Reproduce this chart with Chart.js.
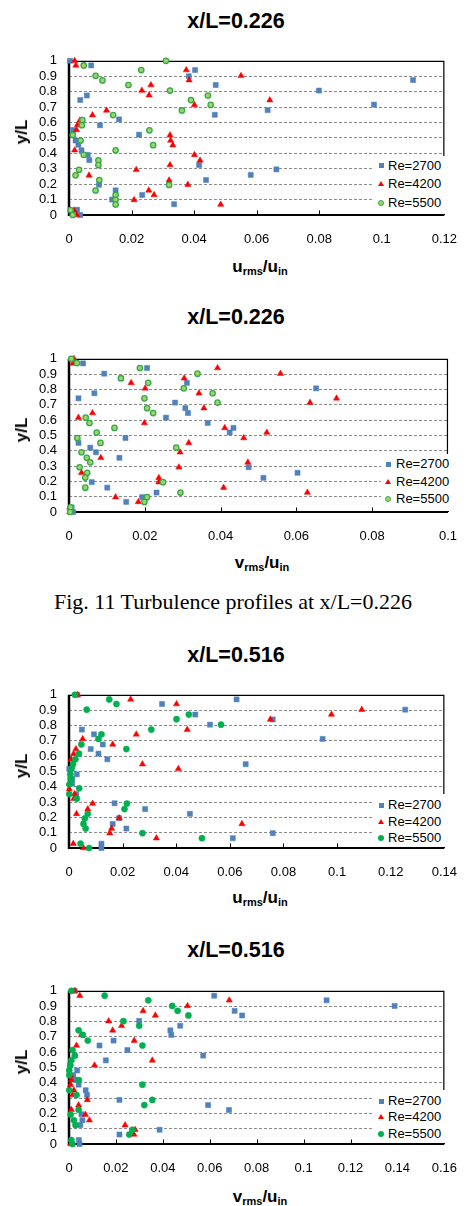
<!DOCTYPE html>
<html><head><meta charset="utf-8">
<script src="https://cdn.jsdelivr.net/npm/chart.js@4.4.1/dist/chart.umd.min.js"></script>
<style>
html,body{margin:0;padding:0;background:#fff}
body{position:relative;width:466px;height:1206px;overflow:hidden;font-family:"Liberation Sans",Arial,sans-serif;color:#000}
canvas{position:absolute;left:0}
.t{position:absolute;white-space:nowrap;transform:translateX(-50%)}
.title{font-weight:bold;font-size:21.5px;line-height:26px}
.ytitle{position:absolute;white-space:nowrap;font-weight:bold;font-size:17px;line-height:20px;transform:translate(-50%,-50%) rotate(-90deg)}
.xtitle{font-weight:bold;font-size:17px;line-height:20px}
.xtitle sub{font-size:11px;vertical-align:-3px;line-height:0}
.caption{font-family:"Liberation Serif","Times New Roman",serif;font-size:22px;line-height:26px}
.lg{position:absolute;background:#fff}
.row{position:absolute;font-size:13px;line-height:16px;white-space:nowrap}
.mk{position:absolute;box-sizing:border-box}
</style></head><body>
<div class="t caption" style="left:233px;top:589px">Fig. 11 Turbulence profiles at x/L=0.226</div>
<script>
// ---------------- data (x = rms/u_in, y = y/L) ----------------
const u226_2700 = [[0.0003,1.0],[0.0071,0.97],[0.0403,0.94],[0.0383,0.90],[0.110,0.875],[0.0469,0.843],[0.0799,0.807],[0.0057,0.775],[0.0036,0.746],[0.0975,0.716],[0.0635,0.68],[0.0466,0.65],[0.016,0.62],[0.0099,0.582],[0.0013,0.551],[0.0224,0.521],[0.0021,0.483],[0.003,0.455],[0.004,0.42],[0.006,0.39],[0.0065,0.356],[0.0416,0.324],[0.0663,0.296],[0.0581,0.26],[0.0438,0.227],[0.0096,0.196],[0.0149,0.16],[0.0234,0.13],[0.0138,0.10],[0.0336,0.07],[0.0026,0.034],[0.0036,0.0]];
const u226_4200 = [[0.0018,1.0],[0.0022,0.97],[0.0375,0.94],[0.055,0.903],[0.0384,0.875],[0.0262,0.843],[0.0233,0.807],[0.0256,0.777],[0.0642,0.745],[0.0401,0.714],[0.012,0.678],[0.0075,0.648],[0.0035,0.614],[0.0027,0.584],[0.0024,0.552],[0.0323,0.518],[0.0325,0.483],[0.0332,0.453],[0.0018,0.42],[0.0401,0.39],[0.0419,0.354],[0.0323,0.324],[0.0215,0.293],[0.0064,0.257],[0.032,0.225],[0.038,0.197],[0.0255,0.16],[0.0272,0.13],[0.0208,0.098],[0.0485,0.068],[0.0016,0.03],[0.0025,0.0]];
const u226_5500 = [[0.031,1.0],[0.0047,0.97],[0.0231,0.94],[0.0085,0.903],[0.0107,0.873],[0.019,0.843],[0.0323,0.807],[0.0444,0.775],[0.039,0.745],[0.0453,0.714],[0.0361,0.678],[0.0141,0.648],[0.0043,0.616],[0.0041,0.582],[0.0257,0.549],[0.0012,0.519],[0.0037,0.483],[0.0269,0.453],[0.0149,0.42],[0.0047,0.39],[0.0094,0.354],[0.0094,0.324],[0.0032,0.293],[0.0021,0.257],[0.0097,0.227],[0.032,0.195],[0.0085,0.159],[0.0149,0.129],[0.0149,0.099],[0.0149,0.068],[0.0005,0.032],[0.0012,0.0]];

const v226_2700 = [[0.0037,0.97],[0.0206,0.94],[0.0093,0.903],[0.0137,0.873],[0.0311,0.843],[0.0652,0.807],[0.0067,0.775],[0.0025,0.742],[0.028,0.714],[0.0307,0.678],[0.0314,0.646],[0.0256,0.616],[0.0366,0.581],[0.0434,0.549],[0.0424,0.519],[0.0149,0.483],[0.0025,0.451],[0.0056,0.42],[0.0071,0.39],[0.0133,0.354],[0.0474,0.292],[0.0603,0.256],[0.0513,0.223],[0.006,0.195],[0.0101,0.159],[0.0231,0.127],[0.0193,0.097],[0.0151,0.066],[0.0007,0.03],[0.0011,0.0]];
const v226_4200 = [[0.0013,1.0],[0.001,0.97],[0.0392,0.94],[0.0558,0.903],[0.0304,0.873],[0.0164,0.843],[0.0201,0.807],[0.0343,0.775],[0.0706,0.742],[0.0636,0.714],[0.0356,0.678],[0.0062,0.646],[0.0025,0.616],[0.0199,0.581],[0.0411,0.549],[0.0522,0.519],[0.0461,0.483],[0.0316,0.451],[0.0293,0.39],[0.0084,0.354],[0.0472,0.324],[0.029,0.292],[0.0033,0.256],[0.0237,0.223],[0.0237,0.195],[0.0408,0.159],[0.0629,0.127],[0.0123,0.097],[0.0183,0.066],[0.0002,0.03],[0.0002,0.0]];
const v226_5500 = [[0.0006,1.0],[0.0021,0.972],[0.0187,0.94],[0.0339,0.903],[0.0137,0.873],[0.0209,0.843],[0.0303,0.807],[0.0379,0.775],[0.0199,0.742],[0.0392,0.714],[0.0206,0.678],[0.0222,0.646],[0.0044,0.616],[0.0054,0.581],[0.012,0.549],[0.0073,0.519],[0.0022,0.483],[0.0083,0.451],[0.0283,0.42],[0.0033,0.39],[0.0047,0.354],[0.0056,0.324],[0.0028,0.292],[0.0048,0.256],[0.0043,0.225],[0.0248,0.195],[0.0043,0.159],[0.0294,0.127],[0.0206,0.097],[0.0199,0.066],[0.0004,0.03],[0.0003,0.0]];

const u516_2700 = [[0.0031,1.0],[0.0625,0.97],[0.0347,0.94],[0.1254,0.903],[0.0471,0.871],[0.076,0.839],[0.0526,0.805],[0.0048,0.773],[0.0093,0.742],[0.0946,0.712],[0.0126,0.676],[0.0081,0.646],[0.011,0.616],[0.0143,0.579],[0.0659,0.547],[0.0001,0.517],[0.0029,0.481],[0.0012,0.45],[0.0012,0.42],[0.0027,0.352],[0.017,0.292],[0.0284,0.254],[0.0451,0.223],[0.0187,0.195],[0.0163,0.157],[0.0214,0.127],[0.076,0.097],[0.0611,0.064],[0.0121,0.028],[0.0121,0.0]];
const u516_4200 = [[0.0032,1.0],[0.023,0.97],[0.0401,0.94],[0.1092,0.903],[0.0979,0.871],[0.0751,0.839],[0.0441,0.773],[0.0251,0.742],[0.0051,0.712],[0.0163,0.676],[0.0026,0.646],[0.0017,0.614],[0.0008,0.579],[0.0274,0.547],[0.0408,0.517],[0.0001,0.42],[0.0001,0.386],[0.0021,0.352],[0.0018,0.322],[0.0088,0.29],[0.007,0.254],[0.0028,0.223],[0.0187,0.195],[0.0645,0.157],[0.0159,0.127],[0.0152,0.097],[0.0326,0.064],[0.0016,0.028],[0.0054,0.0]];
const u516_5500 = [[0.0022,1.0],[0.015,0.97],[0.0177,0.94],[0.0066,0.903],[0.0447,0.871],[0.0401,0.841],[0.0567,0.805],[0.0307,0.773],[0.0121,0.742],[0.011,0.712],[0.0046,0.676],[0.0214,0.646],[0.0037,0.616],[0.0024,0.579],[0.0015,0.547],[0.001,0.517],[0.0005,0.481],[0.0007,0.451],[0.0002,0.416],[0.0038,0.39],[0.0001,0.352],[0.0029,0.322],[0.0216,0.29],[0.0207,0.254],[0.007,0.223],[0.0059,0.193],[0.0054,0.157],[0.0062,0.127],[0.0274,0.097],[0.0496,0.064],[0.0043,0.028],[0.0075,0.0]];

const v516_2700 = [[0.0024,1.0],[0.0619,0.968],[0.1098,0.938],[0.1388,0.901],[0.0706,0.869],[0.0738,0.839],[0.0299,0.804],[0.0474,0.772],[0.0432,0.742],[0.0436,0.712],[0.019,0.675],[0.013,0.643],[0.0249,0.613],[0.0572,0.577],[0.0157,0.546],[0.0004,0.514],[0.0035,0.48],[0.0018,0.45],[0.0025,0.42],[0.0041,0.387],[0.0071,0.351],[0.0077,0.32],[0.0215,0.288],[0.0593,0.254],[0.0682,0.222],[0.0053,0.194],[0.0057,0.155],[0.0048,0.123],[0.0386,0.093],[0.0215,0.062],[0.0042,0.026],[0.0045,0.0]];
const v516_4200 = [[0.0025,1.0],[0.0046,0.968],[0.0683,0.938],[0.0505,0.901],[0.0316,0.869],[0.0368,0.839],[0.0169,0.802],[0.0224,0.772],[0.0186,0.742],[0.0053,0.712],[0.0278,0.675],[0.0032,0.643],[0.0024,0.577],[0.0355,0.546],[0.0109,0.514],[0.0007,0.448],[0.001,0.418],[0.0007,0.387],[0.0021,0.351],[0.0015,0.32],[0.0078,0.288],[0.0041,0.254],[0.001,0.224],[0.007,0.192],[0.0087,0.155],[0.0239,0.123],[0.0282,0.093],[0.0277,0.062],[0.0007,0.0]];
const v516_5500 = [[0.001,1.0],[0.0152,0.968],[0.0338,0.938],[0.044,0.901],[0.0463,0.869],[0.0509,0.839],[0.0232,0.802],[0.0299,0.772],[0.0041,0.742],[0.0059,0.712],[0.008,0.675],[0.0313,0.643],[0.0015,0.613],[0.0025,0.577],[0.001,0.546],[0.0006,0.514],[0.0001,0.48],[0.0001,0.45],[0.0042,0.417],[0.0313,0.387],[0.0001,0.351],[0.0032,0.32],[0.0355,0.288],[0.0321,0.254],[0.0041,0.224],[0.0007,0.192],[0.0021,0.155],[0.0028,0.123],[0.027,0.093],[0.0257,0.062],[0.001,0.026],[0.0015,0.0]];

const chartTitles = ['x/L=0.226','x/L=0.226','x/L=0.516','x/L=0.516'];
const xVariable = ['u','v','u','v'];
const xMax = [0.12, 0.1, 0.14, 0.16];
const xStep = 0.02;
const yMin = 0, yMax = 1, yStep = 0.1;
const seriesNames = ['Re=2700','Re=4200','Re=5500'];
const chartSeries = [
  [u226_2700,u226_4200,u226_5500],
  [v226_2700,v226_4200,v226_5500],
  [u516_2700,u516_4200,u516_5500],
  [v516_2700,v516_4200,v516_5500]
];

// ---------------- layout / style ----------------
const layouts = [
 {top:49,bottom:215,left:69,right:451,titleY:21,xtitleY:267,box:[373,156,77,58],rows:[165.7,184.3,203.3],mkX:381,txtX:388,ring:true},
 {top:347,bottom:512,left:69,right:455,titleY:317,xtitleY:563,box:[381,454,73,57],rows:[464,481.7,499],mkX:388.3,txtX:396,ring:true},
 {top:683,bottom:848,left:69,right:451,titleY:655,xtitleY:898,box:[373,794,77,53],rows:[805,821.7,837.7],mkX:381,txtX:388,ring:false},
 {top:979,bottom:1144,left:69,right:451,titleY:950,xtitleY:1197,box:[373,1090,77,53],rows:[1101,1117.3,1134.3],mkX:381,txtX:388,ring:false}
];
const BLUE='#4F81BD', RED='#FF0000', GREEN='#00B050', RING='#34A94A', RINGFILL='#9FD46C';

Chart.defaults.font.family = '"Liberation Sans", Arial, sans-serif';
Chart.defaults.font.size = 13;
Chart.defaults.color = '#000';

const fmt = v => String(parseFloat(Number(v).toFixed(4)));

const framePlugin = {
  id:'frame',
  beforeDatasetsDraw(chart){
    const {ctx, chartArea:a, scales:{x}} = chart;
    ctx.save();
    ctx.strokeStyle = '#000';
    ctx.lineWidth = 1.2;
    ctx.beginPath();
    ctx.moveTo(a.left, a.top + 0.5);
    ctx.lineTo(a.right - 0.5, a.top + 0.5);
    ctx.lineTo(a.right - 0.5, a.bottom);
    ctx.stroke();
    ctx.lineWidth = 1;
    ctx.beginPath();
    x.ticks.forEach(t => {
      const px = Math.round(x.getPixelForValue(t.value)) + 0.5;
      ctx.moveTo(px, a.bottom);
      ctx.lineTo(px, a.bottom - 4.5);
    });
    ctx.stroke();
    ctx.lineWidth = 2;
    ctx.beginPath();
    ctx.moveTo(a.left, a.bottom);
    ctx.lineTo(a.right, a.bottom);
    ctx.stroke();
    ctx.lineWidth = 2.5;
    ctx.beginPath();
    ctx.moveTo(a.left, a.top);
    ctx.lineTo(a.left, a.bottom + 1);
    ctx.stroke();
    ctx.restore();
  }
};

function addDiv(cls, html, style){
  const d = document.createElement('div');
  d.className = cls; d.innerHTML = html;
  Object.assign(d.style, style);
  document.body.appendChild(d);
  return d;
}

layouts.forEach((L, i) => {
  const padTop = 8, axisH = 40;
  const cv = document.createElement('canvas');
  const H = L.bottom - L.top + padTop + axisH;
  cv.width = 466; cv.height = H;
  cv.style.width = '466px'; cv.style.height = H + 'px';
  cv.style.top = (L.top - padTop) + 'px';
  document.body.appendChild(cv);

  const styles = [
    {pointStyle:'rect', radius:3.6, backgroundColor:BLUE, borderColor:BLUE, borderWidth:0.5, order:2},
    {pointStyle:'triangle', radius:3.6, backgroundColor:RED, borderColor:RED, borderWidth:0.5, order:1},
    L.ring ? {pointStyle:'circle', radius:2.7, backgroundColor:RINGFILL, borderColor:RING, borderWidth:1.3, order:0}
           : {pointStyle:'circle', radius:3.1, backgroundColor:GREEN, borderColor:GREEN, borderWidth:0.5, order:0}
  ];

  new Chart(cv, {
    type:'scatter',
    data:{datasets: chartSeries[i].map((s,k) => Object.assign({
      label: seriesNames[k],
      data: s.map(p => ({x:p[0], y:p[1]})),
      clip: false,
      pointHoverRadius: 3.6
    }, styles[k]))},
    options:{
      responsive:false, animation:false,
      layout:{padding:{top:padTop, right:466 - L.right, left:0, bottom:0}},
      plugins:{legend:{display:false}, tooltip:{enabled:false}},
      scales:{
        x:{type:'linear', min:0, max:xMax[i],
           ticks:{stepSize:xStep, padding:9, callback:v => fmt(v), maxRotation:0, autoSkip:false, maxTicksLimit:30, color:'#000'},
           grid:{display:false}, border:{display:false},
           afterFit: s => { s.height = axisH; }},
        y:{type:'linear', min:yMin, max:yMax,
           ticks:{stepSize:yStep, padding:12, callback:v => fmt(v), autoSkip:false, maxTicksLimit:30, color:'#000'},
           grid:{drawTicks:false, lineWidth:1,
                 color: c => (c.tick && (c.tick.value < 0.001 || c.tick.value > 0.999)) ? 'rgba(0,0,0,0)' : '#8c8c8c'},
           border:{display:false, dash:[3,2]},
           afterFit: s => { s.width = L.left; }}
      }
    },
    plugins:[framePlugin]
  });

  addDiv('t title', chartTitles[i], {left:'236px', top:(L.titleY - 13) + 'px'});
  addDiv('ytitle', 'y/L', {left:'22px', top:((L.top + L.bottom)/2) + 'px'});
  const v = xVariable[i];
  addDiv('t xtitle', v + '<sub>rms</sub>/u<sub>in</sub>', {left:((L.left + L.right)/2) + 'px', top:(L.xtitleY - 10) + 'px'});

  const [bx, by, bw, bh] = L.box;
  addDiv('lg', '', {left:bx + 'px', top:by + 'px', width:bw + 'px', height:bh + 'px'});
  L.rows.forEach((ry, k) => {
    let mk;
    if (k === 0) mk = {left:(L.mkX - 2.5) + 'px', top:(ry - 2.5) + 'px', width:'5px', height:'5px', background:BLUE};
    else if (k === 1) mk = {left:(L.mkX - 3) + 'px', top:(ry - 3) + 'px', width:'0', height:'0', borderLeft:'3px solid transparent', borderRight:'3px solid transparent', borderBottom:'5.5px solid ' + RED};
    else mk = L.ring
      ? {left:(L.mkX - 3) + 'px', top:(ry - 3) + 'px', width:'6px', height:'6px', borderRadius:'50%', background:RINGFILL, border:'1.3px solid ' + RING}
      : {left:(L.mkX - 3) + 'px', top:(ry - 3) + 'px', width:'6px', height:'6px', borderRadius:'50%', background:GREEN};
    addDiv('mk', '', mk);
    addDiv('row', seriesNames[k], {left:L.txtX + 'px', top:(ry - 8) + 'px'});
  });
});
</script>
</body></html>
